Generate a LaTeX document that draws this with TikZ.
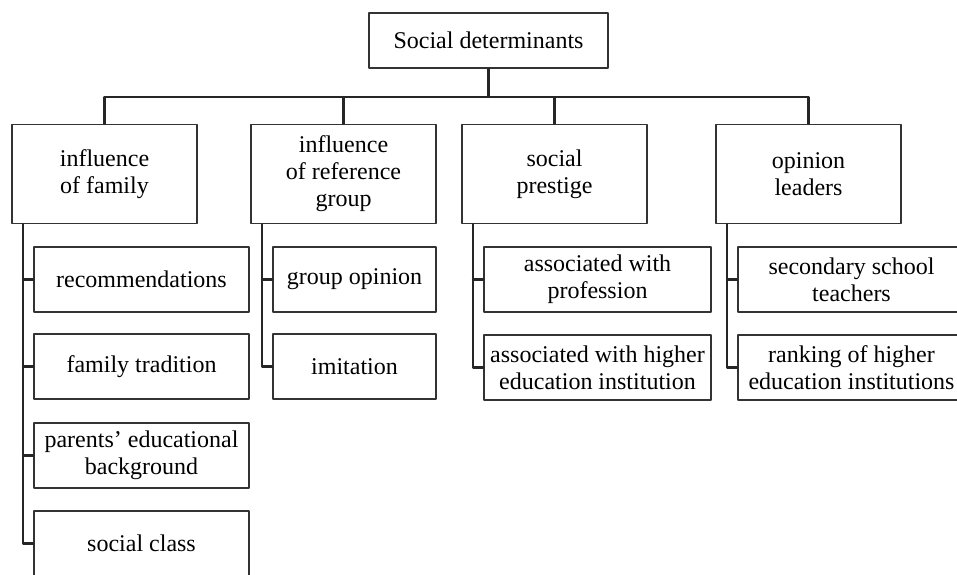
\documentclass[tikz,border=0pt]{standalone}
\usepackage{fontspec}
\setmainfont{Liberation Serif}
\begin{document}
\begin{tikzpicture}[x=1pt, y=-1pt, font=\fontsize{24}{27}\selectfont, line join=round, line cap=round,
		box/.style={draw=black!80, line width=1.5pt, align=center, inner sep=1pt},
		head/.style={box, minimum width=185pt, minimum height=99pt},
		sub/.style={box, minimum height=65pt},
		link/.style={draw=black!85, line width=2.2pt}]
				\useasboundingbox (0,0) rectangle (957,574);
				\clip (0,0) rectangle (957,574);
				% top and main boxes
				\node[box, minimum width=239pt, minimum height=55pt] (top) at (488.5,40.5) {Social determinants};
				\node[head] (fam) at (104.5,174) {influence\\of family};
				\node[head] (ref) at (343.5,174) {influence\\of reference\\group};
				\node[head] (pres) at (554.5,174) {social\\prestige};
				\node[head] (lead) at (808.5,174) {opinion\\leaders};
				\coordinate (bus) at (488.5,97);
				\draw[link] (top.south) -- (bus);
				\draw[link] (fam.north) |- (bus) -| (lead.north);
				\draw[link] (ref.north) -- (ref.north |- bus);
				\draw[link] (pres.north) -- (pres.north |- bus);
				% family
				\node[sub, minimum width=215pt] (rec) at (141.5,279.5) {recommendations};
				\node[sub, minimum width=215pt] (trad) at (141.5,366.5) {family tradition};
				\node[sub, minimum width=215pt] (edu) at (141.5,455.5) {parents’ educational\\background};
				\node[sub, minimum width=215pt] (cls) at (141.5,543.5) {social class};
				\coordinate (famspine) at (23,0);
				\draw[link] (fam.south -| famspine) |- (cls.west);
				\foreach \s in {rec, trad, edu}
					\draw[link] (\s.west -| famspine) -- (\s.west);
				% reference group
				\node[sub, minimum width=163pt] (opin) at (354.5,279.5) {group opinion};
				\node[sub, minimum width=163pt] (imit) at (354.5,366.5) {imitation};
				\coordinate (refspine) at (262,0);
				\draw[link] (ref.south -| refspine) |- (imit.west);
				\draw[link] (opin.west -| refspine) -- (opin.west);
				% prestige
				\node[sub, minimum width=227pt] (prof) at (597.5,279.5) {associated with\\profession};
				\node[sub, minimum width=227pt] (inst) at (597.5,367.5) {associated with higher\\education institution};
				\coordinate (presspine) at (473,0);
				\draw[link] (pres.south -| presspine) |- (inst.west);
				\draw[link] (prof.west -| presspine) -- (prof.west);
				% opinion leaders
				\node[sub, minimum width=227pt] (teach) at (851.5,279.5) {secondary school\\teachers};
				\node[sub, minimum width=227pt] (rank) at (851.5,367.5) {ranking of higher\\education institutions};
				\coordinate (leadspine) at (727,0);
				\draw[link] (lead.south -| leadspine) |- (rank.west);
				\draw[link] (teach.west -| leadspine) -- (teach.west);
			\end{tikzpicture}
\end{document}
